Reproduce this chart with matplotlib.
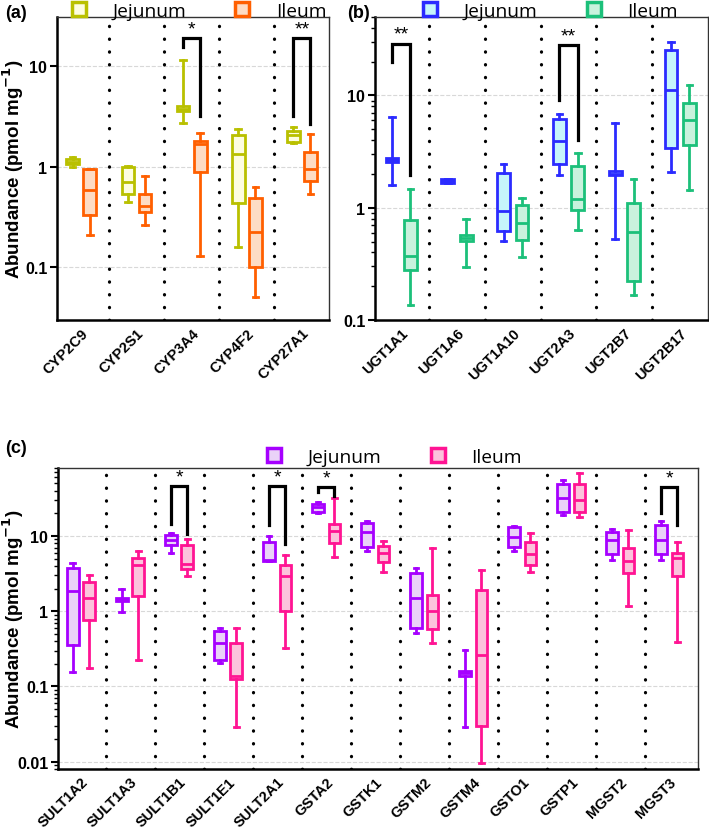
import numpy as np
import matplotlib
matplotlib.use('Agg')
import matplotlib.pyplot as plt
from matplotlib.lines import Line2D
import matplotlib.ticker as mticker

plt.rcParams['font.family'] = ['Liberation Sans', 'DejaVu Sans']

# ---- data: (whislo, q1, median, q3, whishi) per enzyme ----
cyp_names = ['CYP2C9', 'CYP2S1', 'CYP3A4', 'CYP4F2', 'CYP27A1']
cyp_jej = [(1.0, 1.07, 1.12, 1.2, 1.25),
           (0.45, 0.54, 0.71, 0.99, 1.02),
           (2.74, 3.63, 3.8, 4.07, 11.6),
           (0.159, 0.435, 1.35, 2.08, 2.39),
           (1.72, 1.76, 2.1, 2.3, 2.48)]
cyp_ile = [(0.21, 0.33, 0.59, 0.95, 0.95),
           (0.265, 0.36, 0.41, 0.54, 0.82),
           (0.129, 0.90, 1.69, 1.83, 2.18),
           (0.0503, 0.102, 0.227, 0.49, 0.63),
           (0.54, 0.73, 0.955, 1.40, 2.13)]
# significance: (group index, left leg bottom, top, right leg bottom, label)
cyp_sig = [(2, 15.6, 19, 3.2, '*'), (4, 3.2, 19, 2.68, '**')]

ugt_names = ['UGT1A1', 'UGT1A6', 'UGT1A10', 'UGT2A3', 'UGT2B7', 'UGT2B17']
ugt_jej = [(1.60, 2.55, 2.64, 2.75, 6.45),
           (1.65, 1.65, 1.72, 1.8, 1.8),
           (0.504, 0.619, 0.935, 2.05, 2.47),
           (1.94, 2.44, 3.9, 6.15, 6.9),
           (0.53, 1.94, 1.99, 2.11, 5.7),
           (2.08, 3.41, 11.1, 25.4, 30.1)]
ugt_ile = [(0.137, 0.281, 0.37, 0.78, 1.47),
           (0.296, 0.51, 0.54, 0.566, 0.786),
           (0.367, 0.518, 0.73, 1.06, 1.23),
           (0.636, 0.946, 1.186, 2.34, 3.1),
           (0.168, 0.222, 0.607, 1.10, 1.81),
           (1.45, 3.6, 6.0, 8.5, 12.5)]
ugt_sig = [(0, 20, 29, 1.94, '**'), (3, 9.1, 28, 4.0, '**')]

other_names = ['SULT1A2', 'SULT1A3', 'SULT1B1', 'SULT1E1', 'SULT2A1', 'GSTA2', 'GSTK1',
               'GSTM2', 'GSTM4', 'GSTO1', 'GSTP1', 'MGST2', 'MGST3']
other_jej = [(0.157, 0.355, 1.87, 3.74, 4.37),
             (0.98, 1.37, 1.45, 1.52, 1.97),
             (5.88, 7.66, 8.7, 10.4, 10.8),
             (0.207, 0.224, 0.374, 0.546, 0.593),
             (4.6, 4.7, 4.75, 8.4, 10.1),
             (20.2, 20.7, 24.1, 26.7, 28.0),
             (6.25, 7.07, 11.2, 14.9, 16.0),
             (0.509, 0.606, 1.48, 3.21, 3.74),
             (0.029, 0.137, 0.149, 0.16, 0.305),
             (6.25, 7.07, 9.8, 13.0, 13.7),
             (18.7, 21.1, 31.8, 48.3, 54.7),
             (4.79, 5.75, 8.93, 11.2, 12.4),
             (4.79, 5.75, 8.84, 14.0, 16.0)]
other_ile = [(0.177, 0.758, 1.49, 2.46, 3.02),
             (0.224, 1.6, 4.14, 5.09, 6.25),
             (2.9, 3.63, 4.23, 7.6, 9.1),
             (0.029, 0.127, 0.138, 0.382, 0.606),
             (0.328, 1.01, 2.9, 4.1, 5.59),
             (5.3, 8.0, 11.6, 14.5, 31.8),
             (3.34, 4.46, 5.88, 7.43, 8.5),
             (0.374, 0.575, 1.01, 1.63, 6.85),
             (0.0096, 0.030, 0.259, 1.92, 3.55),
             (3.27, 4.14, 5.75, 8.23, 10.96),
             (17.8, 20.7, 30.2, 49.4, 69.0),
             (1.18, 3.21, 4.6, 6.85, 12.0),
             (0.395, 2.96, 5.04, 5.88, 8.4)]
other_sig = [(2, 14.5, 46, 10.6, '*'), (4, 14, 46, 7.8, '*'),
             (5, 38.3, 44.8, 33.5, '*'), (12, 20.2, 44.8, 14, '*')]


def stats(rows):
    return [dict(whislo=r[0], q1=r[1], med=r[2], q3=r[3], whishi=r[4], fliers=[]) for r in rows]


def panel(ax, names, jej, ile, sig, cols, ylim, xlim, yticks, ylabels, off,
          minor=True, leg_x=0.5, leg_y=1.03):
    x = np.arange(len(names))
    for data, pos, (ec, fc) in [(jej, x - off, cols[0]), (ile, x + off, cols[1])]:
        ax.bxp(stats(data), positions=pos, widths=0.23, capwidths=0.1,
               patch_artist=True, showfliers=False,
               boxprops=dict(facecolor=fc, edgecolor=ec, linewidth=2.0),
               whiskerprops=dict(color=ec, linewidth=2.0),
               capprops=dict(color=ec, linewidth=2.0),
               medianprops=dict(color=ec, linewidth=2.0))
    for xs in x[:-1] + 0.5:
        ax.axvline(xs, color='black', lw=2.3, ls=(0, (0.1, 3.9)),
                   dash_capstyle='round', zorder=1)
    for g, lo, top, ro, lab in sig:
        ax.plot([g - off, g - off, g + off, g + off], [lo, top, top, ro],
                color='black', lw=2.3, solid_joinstyle='miter')
        ax.text(g, top * 1.02, lab, ha='center', va='bottom', fontsize=14)
    ax.set_yscale('log')
    ax.set_ylim(ylim)
    ax.set_xlim(xlim)
    ax.set_yticks(yticks)
    ax.set_yticklabels(ylabels, fontsize=11.5, fontweight='bold')
    if minor:
        ax.yaxis.set_minor_locator(mticker.LogLocator(base=10, subs=np.arange(2, 10)))
    else:
        ax.yaxis.set_minor_locator(mticker.NullLocator())
    ax.yaxis.set_minor_formatter(mticker.NullFormatter())
    ax.set_xticks(x)
    ax.set_xticklabels(names, rotation=45, ha='right', rotation_mode='anchor',
                       fontsize=10.5, fontweight='bold')
    ax.grid(axis='y', which='major', color='#d8d8d8', ls='--', lw=0.8)
    ax.set_axisbelow(True)
    ax.tick_params(axis='y', which='major', length=5, width=1.5, pad=2)
    ax.tick_params(axis='y', which='minor', length=3, width=1)
    ax.tick_params(axis='x', length=0, pad=4)
    for s in ['left', 'bottom']:
        ax.spines[s].set_linewidth(1.8)
    for s in ['top', 'right']:
        ax.spines[s].set_linewidth(1.0)
        ax.spines[s].set_color('#333333')
    handles = [Line2D([], [], marker='s', ls='none', markersize=10, markeredgewidth=2.5,
                      markeredgecolor=ec, markerfacecolor=fc) for ec, fc in cols]
    ax.legend(handles, ['Jejunum', 'Ileum'], loc='center', bbox_to_anchor=(leg_x, leg_y),
              ncol=2, frameon=False, handletextpad=0.75, columnspacing=1.95,
              borderaxespad=0, borderpad=0, prop={'family': 'Open Sans', 'size': 13.8})


fig = plt.figure(figsize=(7.09, 8.37), dpi=100)
ax_a = fig.add_axes([0.0804, 0.6165, 0.3836, 0.362])
ax_b = fig.add_axes([0.529, 0.6165, 0.4696, 0.362])
ax_c = fig.add_axes([0.0818, 0.08, 0.9027, 0.3597])

panel(ax_a, cyp_names, cyp_jej, cyp_ile, cyp_sig,
      [('#b9c000', '#fdfde0'), ('#ff5f00', '#fddcc4')],
      (0.03, 31), (-0.44, 4.49), [0.1, 1, 10], ['0.1', '1', '10'], 0.155,
      minor=False, leg_x=0.5, leg_y=1.02)
panel(ax_b, ugt_names, ugt_jej, ugt_ile, ugt_sig,
      [('#2b2bff', '#c6f5fb'), ('#1cc07a', '#c9f2dd')],
      (0.1, 50), (-0.47, 5.5), [0.1, 1, 10], ['0.1', '1', '10'], 0.165,
      leg_x=0.508, leg_y=1.02)
panel(ax_c, other_names, other_jej, other_ile, other_sig,
      [('#a600ff', '#ead2f8'), ('#ff1493', '#fcc3dc')],
      (0.008, 80), (-0.47, 12.59), [0.01, 0.1, 1, 10], ['0.01', '0.1', '1', '10'], 0.165,
      leg_x=0.516, leg_y=1.037)

ylab = 'Abundance (pmol mg$^{\\mathbf{-1}}$)'
ax_a.set_ylabel(ylab, fontsize=13.5, fontweight='bold')
ax_a.yaxis.set_label_coords(-0.115, 0.5)
ax_c.set_ylabel(ylab, fontsize=13.5, fontweight='bold')
ax_c.yaxis.set_label_coords(-0.05, 0.5)

fig.text(0.007, 0.994, '(a)', fontsize=13, fontweight='bold', va='top')
fig.text(0.489, 0.994, '(b)', fontsize=13, fontweight='bold', va='top')
fig.text(0.007, 0.474, '(c)', fontsize=13, fontweight='bold', va='top')

plt.savefig('out.png', dpi=100)
plt.close()
